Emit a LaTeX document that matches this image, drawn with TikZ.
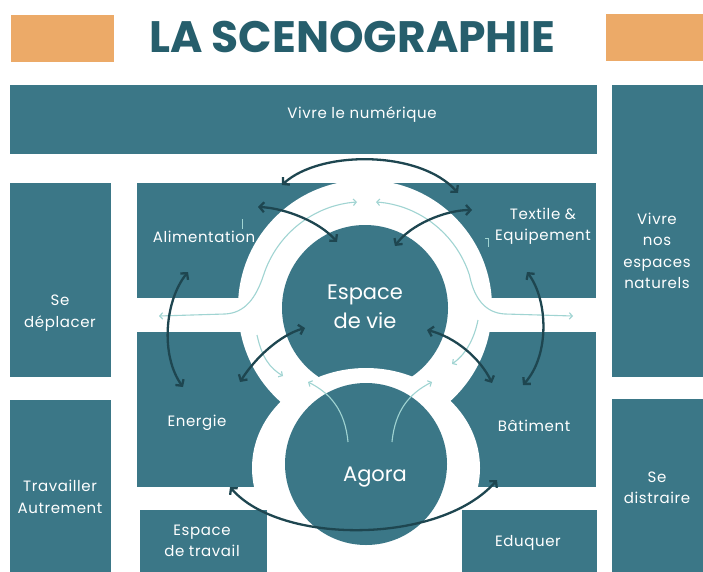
\documentclass[tikz,border=0pt]{standalone}
\usepackage{fontspec}
\setmainfont{Poppins}
\newfontfamily\bodyf{Poppins}[LetterSpace=4]
\usetikzlibrary{arrows.meta,shapes.geometric}
\definecolor{boxteal}{RGB}{59,119,135}
\definecolor{titleteal}{RGB}{38,94,108}
\definecolor{orangeb}{RGB}{236,170,104}
\definecolor{darkarr}{RGB}{30,70,80}
\definecolor{lightarr}{RGB}{160,212,210}
\begin{document}
\begin{tikzpicture}[x=1pt,y=-1pt,
  blk/.style={fill=boxteal, draw=none, inner sep=0pt, outer sep=0pt},
  orb/.style={fill=orangeb, draw=none, inner sep=0pt, outer sep=0pt},
  whitebg/.style={fill=white, draw=none, inner sep=0pt, outer sep=0pt},
  lbl/.style={text=white, align=center, font=\bodyf\fontsize{15}{21.5}\selectfont, inner sep=0pt},
  biglbl/.style={text=white, align=center, font=\fontsize{21}{29}\selectfont, inner sep=0pt},
  darr/.style={draw=darkarr, line width=2.3pt, {Straight Barb[length=4.5pt,width=10pt]}-{Straight Barb[length=4.5pt,width=10pt]}},
  larr/.style={draw=lightarr, line width=1.1pt},
  ltip/.style={-{Straight Barb[length=3pt,width=6.5pt]}},
  ltips/.style={{Straight Barb[length=3pt,width=6.5pt]}-{Straight Barb[length=3pt,width=6.5pt]}},
]
\useasboundingbox (0,0) rectangle (703,572);
\fill[white] (0,0) rectangle (703,572);

% header
\node[orb, minimum width=103pt, minimum height=47pt] (orL) at (62.5,38.5) {};
\node[orb, minimum width=104pt, minimum height=47pt] (orR) at (658,37.5) {};
\node[text=titleteal, font=\fontsize{44}{44}\selectfont\bfseries, inner sep=0pt] (title) at (352,37) {LA SCENOGRAPHIE};

% outer boxes
\node[blk, minimum width=587pt, minimum height=69pt] (bar) at (303.5,119.5) {};
\node[blk, minimum width=101pt, minimum height=194pt] (depl) at (60.5,280) {};
\node[blk, minimum width=101pt, minimum height=180pt] (trav) at (60.5,490) {};
\node[blk, minimum width=98pt, minimum height=292pt] (nat) at (661,231) {};
\node[blk, minimum width=98pt, minimum height=181pt] (dist) at (661,489.5) {};

% central blocks
\node[blk, minimum width=459pt, minimum height=115pt] (topblk) at (366.5,240.5) {};
\node[blk, minimum width=459pt, minimum height=155pt] (botblk) at (366.5,409.5) {};

% white rings
\node[whitebg, circle, minimum size=254pt] (ringU) at (365,307) {};
\node[blk, circle, minimum size=166pt] (vie) at (365,308) {};
\node[whitebg, ellipse, minimum width=228pt, minimum height=200pt] (ringL) at (366,468) {};
\node[blk, circle, minimum size=162pt] (agora) at (366,464) {};

% bottom small boxes
\node[blk, minimum width=127pt, minimum height=70pt] (travail) at (203.5,545) {};
\node[blk, minimum width=135pt, minimum height=70pt] (eduq) at (529.5,545) {};

% labels
\node[lbl] (tnum) at (362,115) {Vivre le numérique};
\node[lbl] (tdepl) at (60,313) {Se\\déplacer};
\node[lbl] (ttrav) at (60,497) {Travailler\\Autrement};
\node[lbl] (tnat) at (657,251) {Vivre\\nos\\espaces\\naturels};
\node[lbl] (tdist) at (657,488) {Se\\distraire};
\node[lbl] (talim) at (204,237) {Alimentation};
\node[lbl] (ttext) at (543,226) {Textile \&\\Equipement};
\node[lbl] (tener) at (197,423) {Energie};
\node[lbl] (tbat) at (534,426) {Bâtiment};
\node[lbl] (ttravail) at (202,541) {Espace\\de travail};
\node[lbl] (teduq) at (528,543) {Eduquer};
\node[biglbl] (tvie) at (365,307) {Espace\\de vie};
\node[biglbl] (tagora) at (375,477) {Agora};

% light connectors
\coordinate (l1a) at (357,202);
\coordinate (l1b) at (159,316);
\coordinate (l2a) at (376,202);
\coordinate (l2b) at (573,316);
\draw[larr, ltips] (l1a) arc[start angle=266, end angle=198, radius=106]
  .. controls (256,298) and (245,313) .. (225,314) -- (l1b);
\draw[larr, ltips] (l2a) arc[start angle=274, end angle=342, radius=106]
  .. controls (474,298) and (485,313) .. (505,314) -- (l2b);
\coordinate (l3a) at (257,335);
\coordinate (l3b) at (283,376);
\coordinate (l4a) at (478,320);
\coordinate (l4b) at (452,364);
\draw[larr, ltip] (l3a) .. controls (262,358) and (270,368) .. (l3b);
\draw[larr, ltip] (l4a) .. controls (474,340) and (465,355) .. (l4b);
\coordinate (l5a) at (348,442);
\coordinate (l5b) at (308,382);
\coordinate (l6a) at (392,442);
\coordinate (l6b) at (432,382);
\draw[larr, ltip] (l5a) .. controls (345,410) and (330,393) .. (l5b);
\draw[larr, ltip] (l6a) .. controls (395,410) and (410,393) .. (l6b);
\coordinate (k1a) at (242,219);
\coordinate (k1b) at (242,229);
\coordinate (k2a) at (485,238);
\coordinate (k2b) at (488,247);
\draw[draw=lightarr, line width=0.6pt] (k1a) -- (k1b);
\draw[draw=lightarr, line width=0.6pt] (k2a) -| (k2b);

% dark connectors
\coordinate (a1) at (282,185);
\coordinate (a2) at (458,193);
\coordinate (b1) at (258,207);
\coordinate (b2) at (337,242);
\coordinate (c1) at (472,210);
\coordinate (c2) at (395,246);
\coordinate (d1) at (188,272);
\coordinate (d2) at (183,387);
\coordinate (e1) at (527,272);
\coordinate (e2) at (523,385);
\coordinate (f1) at (305,328);
\coordinate (f2) at (240,382);
\coordinate (g1) at (427,330);
\coordinate (g2) at (492,383);
\coordinate (h1) at (230,487);
\coordinate (h2) at (497,480);
\draw[darr] (a1) .. controls (320,150) and (420,150) .. (a2);
\draw[darr] (b1) .. controls (285,208) and (320,222) .. (b2);
\draw[darr] (c1) .. controls (445,210) and (410,225) .. (c2);
\draw[darr] (d1) .. controls (165,300) and (160,355) .. (d2);
\draw[darr] (e1) .. controls (548,300) and (550,355) .. (e2);
\draw[darr] (f1) .. controls (280,335) and (255,358) .. (f2);
\draw[darr] (g1) .. controls (455,337) and (480,358) .. (g2);
\draw[darr] (h1) .. controls (280,545) and (440,545) .. (h2);
\end{tikzpicture}
\end{document}
